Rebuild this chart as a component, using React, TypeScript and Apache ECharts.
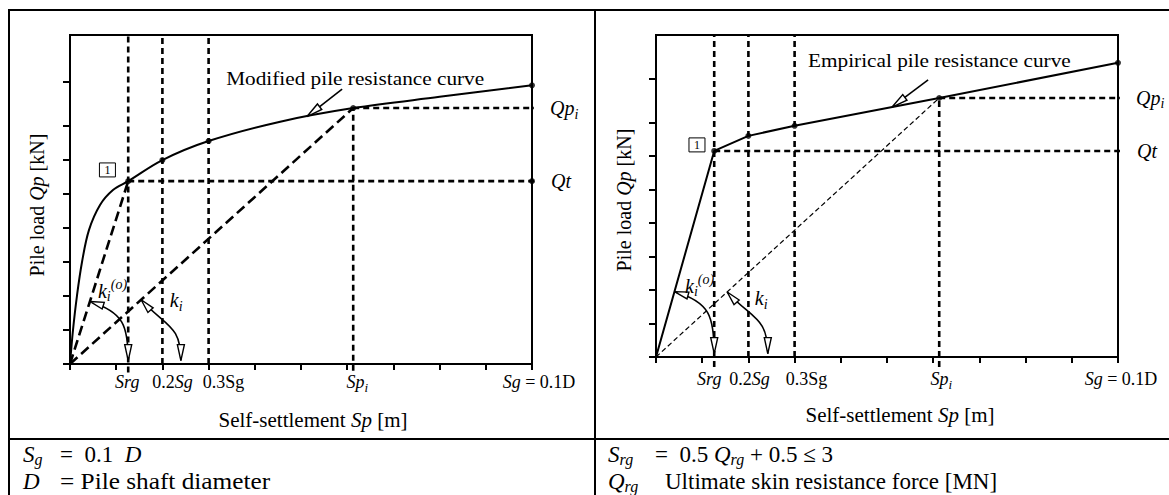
import React, { useEffect, useRef } from "react";
import * as echarts from "echarts";

const SERIF = '"Liberation Serif", "Times New Roman", "DejaVu Serif", serif';

// ---------- axes (x in tenths of Sg, y in tick units) ----------
const X_MAX = 10;
const LEFT_Y_MAX = 9.68;
const RIGHT_Y_MAX = 9.61;
const xTickValues = [0, 1, 2, 3, 4, 5, 6, 7, 8, 9, 10];
const yTickValues = [0, 1, 2, 3, 4, 5, 6, 7, 8.3];
const xLabelValues = [1.26, 2, 3, 6.13, 10];
const xLabelTexts = ["{i|Srg}", "0.2{i|Sg}", "0.3Sg", "{i|Sp}{sub|i}", "{i|Sg} = 0.1D"];

// ---------- left panel: modified pile resistance curve ----------
const modCurveX = [0, 0.065, 0.15, 0.26, 0.41, 0.65, 0.93, 1.26, 2.0, 3.0, 4.55, 6.13, 8.0, 10];
const modCurveY = [0, 1.0, 2.0, 3.0, 3.94, 4.68, 5.12, 5.38, 6.0, 6.56, 7.13, 7.53, 7.86, 8.2];
const modMarkX = [1.26, 2, 3, 6.13, 10, 10];
const modMarkY = [5.38, 6.0, 6.56, 7.53, 8.2, 5.38];
const modSrg = 1.26;
const modQt = 5.38;
const modSpi = 6.13;
const modQpi = 7.53;
// [x0, y0, x1, y1, kind]  kind 0 = pointer arrow, 1 = angle arc arrow
const modArrows = [
  [5.89, 8.09, 5.13, 7.28, 0],
  [0.43, 1.84, 1.26, 0.1, 1],
  [1.54, 1.89, 2.4, 0.1, 1],
];

// ---------- right panel: empirical pile resistance curve ----------
const empCurveX = [0, 1.26, 2, 3, 6.13, 10];
const empCurveY = [0, 6.15, 6.6, 6.9, 7.73, 8.78];
const empMarkX = [1.26, 2, 3, 6.13, 10];
const empMarkY = [6.15, 6.6, 6.9, 7.73, 8.78];
const empSrg = 1.26;
const empQt = 6.15;
const empSpi = 6.13;
const empQpi = 7.73;
const empArrows = [
  [5.89, 8.27, 5.11, 7.46, 0],
  [0.4, 1.95, 1.26, 0.1, 1],
  [1.54, 1.94, 2.42, 0.1, 1],
];

const HEAVY_DASH = { width: 2.6, type: [6, 4] };
const LONG_DASH = { width: 2.6, type: [10, 5] };
const THIN_DASH = { width: 1.2, type: [5, 3] };
const SOLID = { width: 2, type: "solid" };

function seg(g: number, xs: number[], ys: number[], st: any, smooth: any = false, z = 3) {
  return {
    type: "line",
    xAxisIndex: g,
    yAxisIndex: g,
    data: xs.map((x, i) => [x, ys[i]]),
    symbol: "none",
    clip: false,
    silent: true,
    smooth,
    z,
    lineStyle: { color: "#000", width: st.width, type: st.type },
  };
}

function renderArrow(_params: any, api: any) {
  const a = api.coord([api.value(0), api.value(1)]);
  const b = api.coord([api.value(2), api.value(3)]);
  const kind = api.value(4);
  const head = (tip: number[], ux: number, uy: number, len: number, hw: number) => {
    const bx = tip[0] + ux * len;
    const by = tip[1] + uy * len;
    return {
      type: "polygon",
      shape: {
        points: [
          [tip[0], tip[1]],
          [bx - uy * hw, by + ux * hw],
          [bx + uy * hw, by - ux * hw],
        ],
      },
      style: { fill: "#fff", stroke: "#000", lineWidth: 1.4 },
    };
  };
  if (kind === 0) {
    const dx = b[0] - a[0];
    const dy = b[1] - a[1];
    const L = Math.hypot(dx, dy);
    const ux = dx / L;
    const uy = dy / L;
    return {
      type: "group",
      children: [
        {
          type: "line",
          shape: { x1: a[0], y1: a[1], x2: b[0] - ux * 8, y2: b[1] - uy * 8 },
          style: { stroke: "#000", lineWidth: 1.6 },
        },
        head(b, -ux, -uy, 16, 3.5),
      ],
    };
  }
  const o = api.coord([0, 0]);
  const rx = a[0] - o[0];
  const ry = a[1] - o[1];
  const rl = Math.hypot(rx, ry);
  let tx = -ry / rl;
  let ty = rx / rl;
  if (tx < 0) {
    tx = -tx;
    ty = -ty;
  }
  const c = Math.hypot(b[0] - a[0], b[1] - a[1]);
  const k = c * 0.5;
  return {
    type: "group",
    children: [
      {
        type: "bezierCurve",
        shape: {
          x1: a[0],
          y1: a[1],
          x2: b[0],
          y2: b[1],
          cpx1: a[0] + tx * k,
          cpy1: a[1] + ty * k,
          cpx2: b[0],
          cpy2: b[1] - k,
        },
        style: { stroke: "#000", lineWidth: 1.6, fill: "none" },
      },
      head(a, tx, ty, 14, 3.5),
      head(b, 0, -1, 16, 3.5),
    ],
  };
}

function axisPair(g: number, yMax: number) {
  const line = { show: true, onZero: false, lineStyle: { color: "#000", width: 2 } };
  const x = {
    gridIndex: g,
    type: "value",
    min: 0,
    max: X_MAX,
    interval: 1,
    axisLine: line,
    axisTick: { show: true, customValues: xTickValues, length: 6, lineStyle: { color: "#000", width: 2 } },
    axisLabel: { show: false },
    splitLine: { show: false },
  };
  const y = {
    gridIndex: g,
    type: "value",
    min: 0,
    max: yMax,
    interval: 1,
    axisLine: line,
    axisTick: { show: true, customValues: yTickValues, length: 7, lineStyle: { color: "#000", width: 2 } },
    axisLabel: { show: false },
    splitLine: { show: false },
  };
  return { x, y };
}

function buildOption() {
  const a0 = axisPair(0, LEFT_Y_MAX);
  const a1 = axisPair(1, RIGHT_Y_MAX);
  const gridBase = { show: true, borderColor: "#000", borderWidth: 2, backgroundColor: "transparent" };
  const series: any[] = [
    // left panel
    seg(0, modCurveX, modCurveY, SOLID, 0.35, 5),
    seg(0, [modSrg, modSrg], [-0.25, LEFT_Y_MAX], HEAVY_DASH),
    seg(0, [2, 2], [0, LEFT_Y_MAX], HEAVY_DASH),
    seg(0, [3, 3], [0, LEFT_Y_MAX], HEAVY_DASH),
    seg(0, [modSpi, modSpi], [-0.2, modQpi], HEAVY_DASH),
    seg(0, [modSrg, 10.25], [modQt, modQt], HEAVY_DASH),
    seg(0, [modSpi, 10.25], [modQpi, modQpi], HEAVY_DASH),
    seg(0, [0, modSrg], [0, modQt], LONG_DASH),
    seg(0, [0, modSpi], [0, modQpi], LONG_DASH),
    {
      type: "scatter",
      xAxisIndex: 0,
      yAxisIndex: 0,
      data: modMarkX.map((x, i) => [x, modMarkY[i]]),
      symbolSize: 6,
      itemStyle: { color: "#000" },
      z: 6,
      silent: true,
    },
    {
      type: "custom",
      xAxisIndex: 0,
      yAxisIndex: 0,
      dimensions: ["x0", "y0", "x1", "y1", "kind"],
      encode: { x: [0, 2], y: [1, 3] },
      data: modArrows,
      renderItem: renderArrow,
      z: 10,
      silent: true,
    },
    // right panel
    seg(1, empCurveX, empCurveY, SOLID, false, 5),
    seg(1, [empSrg, empSrg], [-0.3, RIGHT_Y_MAX], HEAVY_DASH),
    seg(1, [2, 2], [0, RIGHT_Y_MAX], HEAVY_DASH),
    seg(1, [3, 3], [0, RIGHT_Y_MAX], HEAVY_DASH),
    seg(1, [empSpi, empSpi], [-0.3, empQpi], HEAVY_DASH),
    seg(1, [empSrg, 10.25], [empQt, empQt], HEAVY_DASH),
    seg(1, [empSpi, 10.25], [empQpi, empQpi], HEAVY_DASH),
    seg(1, [0, empSpi], [0, empQpi], THIN_DASH),
    {
      type: "scatter",
      xAxisIndex: 1,
      yAxisIndex: 1,
      data: empMarkX.map((x, i) => [x, empMarkY[i]]),
      symbolSize: 6,
      itemStyle: { color: "#000" },
      z: 6,
      silent: true,
    },
    {
      type: "custom",
      xAxisIndex: 1,
      yAxisIndex: 1,
      dimensions: ["x0", "y0", "x1", "y1", "kind"],
      encode: { x: [0, 2], y: [1, 3] },
      data: empArrows,
      renderItem: renderArrow,
      z: 10,
      silent: true,
    },
  ];
  return {
    animation: false,
    backgroundColor: "#fff",
    grid: [
      { ...gridBase, left: 70, top: 35, width: 462, height: 329 },
      { ...gridBase, left: 656, top: 35, width: 462, height: 322 },
    ],
    xAxis: [a0.x, a1.x],
    yAxis: [a0.y, a1.y],
    series,
  };
}

function richFor(size: number, subDrop = true) {
  const s = Math.round(size * 0.7);
  return {
    i: { fontFamily: SERIF, fontSize: size, fontStyle: "italic", lineHeight: size * (subDrop ? 1.3 : 1.15), fill: "#000" },
    n: { fontFamily: SERIF, fontSize: size, fontStyle: "normal", lineHeight: size * (subDrop ? 1.3 : 1.15), fill: "#000" },
    sub: { fontFamily: SERIF, fontSize: s, fontStyle: "italic", lineHeight: s, verticalAlign: "bottom", fill: "#000" },
    sup: { fontFamily: SERIF, fontSize: s, fontStyle: "italic", lineHeight: s, verticalAlign: "top", fill: "#000" },
  };
}

function txt(x: number, y: number, text: string, size: number, opts: any = {}) {
  const align = opts.align || "left";
  const tight = !!opts.tight;
  return {
    type: "text",
    x,
    y,
    rotation: opts.rotation || 0,
    scaleX: opts.scaleX || 1,
    silent: true,
    z: 100,
    style: {
      text,
      x: 0,
      y: 0,
      fontFamily: SERIF,
      fontSize: size,
      fontStyle: opts.italic ? "italic" : "normal",
      lineHeight: size * (tight ? 1.15 : 1.3),
      fill: "#000",
      align,
      textAlign: align,
      verticalAlign: "middle",
      textVerticalAlign: "middle",
      rich: richFor(size, !tight),
    },
  };
}

const panels = [
  {
    g: 0,
    labelDx: [-1, 10, 15, 4, 7],
    labelDy: 18,
    qt: modQt,
    qpi: modQpi,
    title: "Modified pile resistance curve",
    titleAt: [3.38, 8.41],
    boxAt: [0.81, 5.71],
    k0At: [0.606, 2.15],
    kiAt: [2.16, 1.88],
    xName: [313, 420],
    yName: [37, 205],
  },
  {
    g: 1,
    labelDx: [-5, 1, 12, 2, 3],
    labelDy: 22,
    qt: empQt,
    qpi: empQpi,
    title: "Empirical pile resistance curve",
    titleAt: [3.29, 8.84],
    boxAt: [0.887, 6.33],
    k0At: [0.628, 2.12],
    kiAt: [2.14, 1.76],
    xName: [900, 415],
    yName: [624, 200],
  },
];

function buildGraphic(chart: any) {
  const P = (g: number, x: number, y: number) => chart.convertToPixel({ gridIndex: g }, [x, y]) as number[];
  const els: any[] = [];
  const ln = (x1: number, y1: number, x2: number, y2: number) => ({
    type: "line",
    shape: { x1, y1, x2, y2 },
    style: { stroke: "#000", lineWidth: 2 },
    silent: true,
    z: 50,
  });
  els.push(ln(8, 10, 1169, 10), ln(9, 9, 9, 495), ln(595, 10, 595, 495), ln(8, 439, 1169, 439));

  panels.forEach((p) => {
    xLabelValues.forEach((v, i) => {
      const q = P(p.g, v, 0);
      els.push(txt(q[0] + p.labelDx[i], q[1] + p.labelDy, xLabelTexts[i], 18, { align: "center" }));
    });
    const t = P(p.g, p.titleAt[0], p.titleAt[1]);
    els.push(txt(t[0], t[1], p.title, 19, { scaleX: 1.12 }));
    const qp = P(p.g, X_MAX, p.qpi);
    els.push(txt(qp[0] + 18, qp[1], "{i|Qp}{sub|i}", 20, { italic: true }));
    const qt = P(p.g, X_MAX, p.qt);
    els.push(txt(qt[0] + 19, qt[1], "Qt", 20, { italic: true }));
    const bx = P(p.g, p.boxAt[0], p.boxAt[1]);
    els.push({
      type: "rect",
      shape: { x: bx[0] - 8, y: bx[1] - 7, width: 16, height: 14 },
      style: { fill: "#fff", stroke: "#000", lineWidth: 1 },
      silent: true,
      z: 90,
    });
    els.push(txt(bx[0], bx[1] + 0.5, "1", 12, { align: "center" }));
    const k0 = P(p.g, p.k0At[0], p.k0At[1]);
    els.push(txt(k0[0], k0[1], "{i|k}{sub|i}{sup|(o)}", 20));
    const ki = P(p.g, p.kiAt[0], p.kiAt[1]);
    els.push(txt(ki[0], ki[1], "{i|k}{sub|i}", 20));
    els.push(txt(p.xName[0], p.xName[1], "Self-settlement {i|Sp} [m]", 21, { align: "center" }));
    els.push(txt(p.yName[0], p.yName[1], "Pile load {i|Qp} [kN]", 20, { align: "center", rotation: Math.PI / 2 }));
  });

  // bottom notes
  const FS = 23;
  const o = { tight: true };
  els.push(txt(23, 454, "{i|S}{sub|g}", FS, o));
  els.push(txt(60, 454, "=\u00a0\u00a00.1\u00a0\u00a0{i|D}", FS, o));
  els.push(txt(23, 481, "{i|D}", FS, o));
  els.push(txt(60, 481, "=\u00a0Pile shaft diameter", FS, { ...o, scaleX: 1.1 }));
  els.push(txt(608, 454, "{i|S}{sub|rg}", FS, o));
  els.push(txt(655, 454, "=\u00a0\u00a00.5 {i|Q}{sub|rg} + 0.5 \u2264 3", FS, o));
  els.push(txt(608, 481, "{i|Q}{sub|rg}", FS, o));
  els.push(txt(665, 481, "Ultimate skin resistance force [MN]", FS, o));
  return els;
}

export default function App() {
  const ref = useRef<HTMLDivElement>(null);
  useEffect(() => {
    document.body.style.margin = "0";
    const chart = echarts.init(ref.current as HTMLDivElement, null, { renderer: "svg" });
    chart.setOption(buildOption() as any);
    chart.setOption({ graphic: buildGraphic(chart) } as any);
    return () => chart.dispose();
  }, []);
  return <div ref={ref} style={{ width: 1169, height: 495 }} />;
}
